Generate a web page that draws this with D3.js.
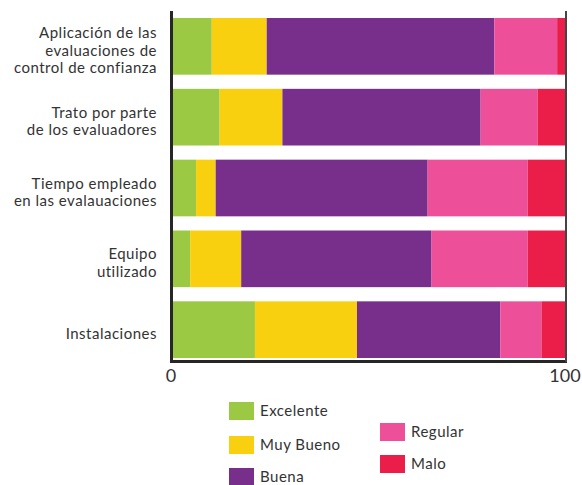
<!DOCTYPE html>
<html>
<head>
<meta charset="utf-8">
<script src="https://cdn.jsdelivr.net/npm/d3@7/dist/d3.min.js"></script>
<style>
  html, body { margin: 0; padding: 0; background: #fff; }
  svg { display: block; font-family: Lato, "Noto Sans", sans-serif; }
</style>
</head>
<body>
<svg id="chart" width="582" height="485"></svg>
<script>
// Survey aspects (label lines) and percentage shares per rating
const categories = [
  ["Aplicación de las", "evaluaciones de", "control de confianza"],
  ["Trato por parte", "de los evaluadores"],
  ["Tiempo empleado", "en las evalauaciones"],
  ["Equipo", "utilizado"],
  ["Instalaciones"]
];
const seriesNames = ["Excelente", "Muy Bueno", "Buena", "Regular", "Malo"];
const excelente = [10, 12, 6, 4.5, 21];
const muyBueno  = [14, 16, 5, 13, 26];
const buena     = [58, 50.5, 54, 48.5, 36.5];
const regular   = [16, 14.5, 25.5, 24.5, 10.5];
const malo      = [2, 7, 9.5, 9.5, 6];
const tickValues = [0, 100];

const colors = ["#9BC943", "#F9D00F", "#782F8C", "#EE4F99", "#EB1E4A"];

const keys = categories.map(c => c.join(" "));
const rows = keys.map((k, i) => ({
  key: k,
  "Excelente": excelente[i],
  "Muy Bueno": muyBueno[i],
  "Buena": buena[i],
  "Regular": regular[i],
  "Malo": malo[i]
}));

const svg = d3.select("#chart");

const x = d3.scaleLinear().domain([0, 100]).range([172.5, 565]);
const y = d3.scaleBand().domain(keys).range([18, 358]).paddingInner(0.2).paddingOuter(0);
const color = d3.scaleOrdinal().domain(seriesNames).range(colors);

const stacked = d3.stack().keys(seriesNames)(rows);

svg.append("g")
  .selectAll("g")
  .data(stacked)
  .join("g")
    .attr("fill", d => color(d.key))
  .selectAll("rect")
  .data(d => d)
  .join("rect")
    .attr("x", d => x(d[0]))
    .attr("width", d => x(d[1]) - x(d[0]))
    .attr("y", d => y(d.data.key))
    .attr("height", y.bandwidth());

// Frame: dark left and bottom edges, grey right edge
svg.append("line")
  .attr("x1", 171.5).attr("x2", 171.5).attr("y1", 11).attr("y2", 363)
  .attr("stroke", "#262626").attr("stroke-width", 3);
svg.append("line")
  .attr("x1", 170).attr("x2", 567).attr("y1", 361.5).attr("y2", 361.5)
  .attr("stroke", "#262626").attr("stroke-width", 3);
svg.append("line")
  .attr("x1", 566).attr("x2", 566).attr("y1", 11).attr("y2", 362)
  .attr("stroke", "#444").attr("stroke-width", 2);

// Category labels
const labels = svg.append("g")
  .attr("font-size", 15)
  .attr("letter-spacing", "0.5px")
  .attr("fill", "#333")
  .attr("text-anchor", "end");
categories.forEach((lines, i) => {
  const cy = y(keys[i]) + y.bandwidth() / 2 + 4;
  const lh = 17.5;
  const t = labels.append("text")
    .attr("x", 157)
    .attr("y", cy - (lines.length - 1) * lh / 2);
  lines.forEach((ln, j) => {
    t.append("tspan").attr("x", 157).attr("dy", j === 0 ? "0.35em" : lh).text(ln);
  });
});

// Bottom axis with only 0 and 100
const axis = svg.append("g")
  .attr("transform", "translate(0,369)")
  .call(d3.axisBottom(x).tickValues(tickValues).tickSize(0).tickPadding(0).tickFormat(d3.format("d")));
axis.select(".domain").remove();
axis.selectAll("text")
  .attr("font-size", 18)
  .attr("font-family", "Lato, 'Noto Sans', sans-serif")
  .attr("fill", "#333");
axis.selectAll(".tick").filter(d => d === 100).attr("transform", `translate(${x(100)},0)`);
axis.selectAll(".tick").filter(d => d === 0).attr("transform", `translate(${x(0) - 1.5},0)`);

// Legend: two columns
const legendPos = [
  { x: 229, y: 402 },
  { x: 229, y: 436 },
  { x: 229, y: 468 },
  { x: 380, y: 423 },
  { x: 380, y: 455 }
];
const legend = svg.append("g")
  .attr("font-size", 15)
  .attr("letter-spacing", "0.5px")
  .attr("fill", "#333");
seriesNames.forEach((name, i) => {
  const p = legendPos[i];
  legend.append("rect")
    .attr("x", p.x).attr("y", p.y).attr("width", 25).attr("height", 18)
    .attr("fill", color(name));
  legend.append("text")
    .attr("x", p.x + 31).attr("y", p.y + 9).attr("dy", "0.35em")
    .text(name);
});
</script>
</body>
</html>
